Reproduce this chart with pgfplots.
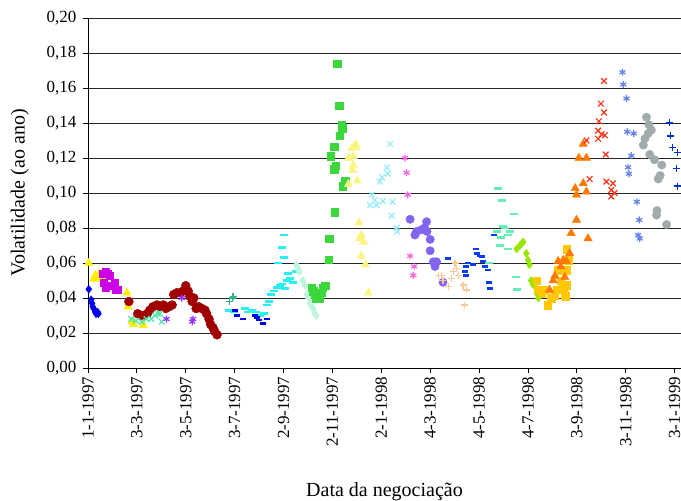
\documentclass[border=0pt]{standalone}
\usepackage{fontspec}
\setmainfont{Liberation Serif}
\usepackage{pgfplots}
\pgfplotsset{compat=1.18}
\definecolor{cA}{RGB}{0,0,240}
\definecolor{cB}{RGB}{255,240,0}
\definecolor{cC}{RGB}{204,0,230}
\definecolor{cD}{RGB}{160,0,0}
\definecolor{cE}{RGB}{80,230,170}
\definecolor{cF}{RGB}{150,50,255}
\definecolor{cG}{RGB}{51,180,130}
\definecolor{cH}{RGB}{40,240,240}
\definecolor{cI}{RGB}{0,0,230}
\definecolor{cJ}{RGB}{190,245,220}
\definecolor{cK}{RGB}{60,215,60}
\definecolor{cL}{RGB}{250,245,130}
\definecolor{cM}{RGB}{150,235,250}
\definecolor{cN}{RGB}{245,100,220}
\definecolor{cO}{RGB}{130,100,240}
\definecolor{cP}{RGB}{250,200,150}
\definecolor{cQ}{RGB}{10,60,240}
\definecolor{cR}{RGB}{100,240,180}
\definecolor{cS}{RGB}{150,230,0}
\definecolor{cT}{RGB}{255,200,0}
\definecolor{cU}{RGB}{255,120,0}
\definecolor{cV}{RGB}{255,50,20}
\definecolor{cW}{RGB}{100,130,235}
\definecolor{cX}{RGB}{160,172,172}
\definecolor{cY}{RGB}{0,50,210}
\begin{document}
\begin{tikzpicture}
\begin{axis}[
  scale only axis, width=593pt, height=350pt,
  xmin=0, xmax=740, ymin=0, ymax=0.2,
  axis lines*=left,
  xtick={0,61,122,183,244,305,366,427,488,549,610,671,732},
  xticklabels={1-1-1997,3-3-1997,3-5-1997,3-7-1997,2-9-1997,2-11-1997,2-1-1998,4-3-1998,4-5-1998,4-7-1998,3-9-1998,3-11-1998,3-1-1999},
  ytick={0,0.02,0.04,0.06,0.08,0.1,0.12,0.14,0.16,0.18,0.2},
  yticklabels={{0,00},{0,02},{0,04},{0,06},{0,08},{0,10},{0,12},{0,14},{0,16},{0,18},{0,20}},
  ymajorgrids, grid style={black!85, line width=0.9pt},
  tick align=outside, major tick length=5pt,
  tick style={black, line width=0.8pt},
  axis line style={black, line width=0.8pt},
  xticklabel style={rotate=90, anchor=east, font=\fontsize{17}{20}\selectfont},
  yticklabel style={xshift=-3pt, font=\fontsize{17}{20}\selectfont},
  xlabel={Data da negociação},
  ylabel={Volatilidade (ao ano)},
  xlabel style={at={(axis description cs:0.5,-0.366)}, anchor=base, font=\fontsize{20}{24}\selectfont},
  ylabel style={at={(axis description cs:-0.115,0.5)}, anchor=center, font=\fontsize{20}{24}\selectfont},
]
% blue diamonds
\addplot[only marks, mark=diamond*, mark size=4pt, color=cA] coordinates {
(1,0.045) (4,0.039) (5,0.037) (6,0.035) (7,0.034) (9,0.032) (10,0.031) (12,0.032) (13,0.031)};
% yellow triangles
\addplot[only marks, mark=triangle*, mark size=4.8pt, color=cB] coordinates {
(1,0.060) (7,0.051) (9,0.053) (11,0.051) (14,0.054) (17.5,0.053) (21,0.052) (24,0.054) (28,0.052) (30,0.048) (32,0.0465) (34,0.046) (48.6,0.043) (50,0.035) (55,0.0265) (57,0.025) (69,0.0246)};
% magenta squares
\addplot[only marks, mark=square*, mark size=3.5pt, color=cC] coordinates {
(18,0.054) (22,0.055) (25,0.054) (27,0.053) (20,0.049) (22,0.046) (27,0.047) (33,0.049) (35,0.045) (37,0.045)};
% dark red circles
\addplot[only marks, mark=*, mark size=4.5pt, color=cD] coordinates {
(51,0.038) (62,0.031) (66,0.030) (70,0.030) (74,0.031) (77,0.033) (81,0.035) (86,0.036) (90,0.035) (94,0.036) (97,0.034) (101,0.035) (105,0.036) (107,0.042) (111,0.043) (115,0.043) (119,0.044) (122,0.047) (125,0.044) (127,0.041) (130,0.038) (132,0.040) (135,0.034) (138,0.035) (142,0.034) (146,0.033) (148,0.031) (151,0.028) (153,0.025) (156,0.023) (158,0.021) (161,0.019)};
% aquamarine x
\addplot[only marks, mark=x, mark size=4pt, line width=1.2pt, color=cE] coordinates {
(54,0.028) (60,0.027) (67,0.0265) (73,0.028) (79,0.028) (84,0.030) (87,0.031) (90,0.031) (92,0.0265)};
% purple stars
\addplot[only marks, mark=asterisk, mark size=3.5pt, line width=1.2pt, color=cF] coordinates {
(98,0.028) (117,0.040) (130,0.0265) (131,0.028)};
% sea green plus
\addplot[only marks, mark=+, mark size=3.5pt, line width=1.3pt, color=cG] coordinates {
(177,0.038) (180,0.040) (181,0.041)};
% cyan dashes
\addplot[only marks, mark=-, mark size=4pt, line width=2.7pt, color=cH] coordinates {
(176,0.033) (182,0.032) (196,0.034) (200,0.032) (205,0.033) (210,0.032) (215,0.030) (220,0.031) (223,0.036) (226,0.038) (228,0.042) (232,0.044) (236,0.046) (240,0.047) (242,0.048) (246,0.0455) (248,0.050) (252,0.051) (256,0.049) (260,0.055) (250,0.054) (237,0.060) (245,0.063) (242,0.069) (245,0.076)};
% blue dashes
\addplot[only marks, mark=-, mark size=3pt, line width=2.7pt, color=cI] coordinates {
(183,0.033) (186,0.030) (194,0.028) (209,0.030) (211,0.029) (213,0.0275) (219,0.0255) (223,0.028)};
% pale mint diamonds
\addplot[only marks, mark=diamond*, mark size=4pt, color=cJ] coordinates {
(260,0.059) (262,0.057) (264,0.055) (268,0.050) (271,0.047) (273,0.042) (275,0.040) (277,0.037) (279,0.035) (281,0.034) (283,0.031) (285,0.030)};
% green squares
\addplot[only marks, mark=square*, mark size=3.7pt, color=cK] coordinates {
(279,0.046) (281,0.044) (283,0.042) (285,0.040) (287,0.041) (289,0.040) (291,0.043) (293,0.046) (296,0.047) (300,0.062) (301,0.074) (303,0.121) (307,0.1265) (307,0.1135) (308,0.089) (309,0.1155) (311,0.174) (313.5,0.150) (314,0.1326) (316.5,0.139) (317,0.137) (318,0.104) (320.6,0.106) (321,0.107)};
% pale yellow triangles
\addplot[only marks, mark=triangle*, mark size=4.8pt, color=cL] coordinates {
(325,0.120) (325,0.105) (329,0.1256) (330,0.113) (331,0.121) (331,0.116) (334,0.128) (335,0.126) (336,0.107) (338,0.083) (339,0.074) (341,0.076) (341,0.064) (344,0.072) (346,0.059) (350,0.043)};
% pale cyan x
\addplot[only marks, mark=x, mark size=4pt, line width=1.2pt, color=cM] coordinates {
(352,0.093) (354,0.099) (358,0.096) (360,0.093) (364,0.1065) (367,0.109) (368,0.0954) (373,0.1145) (374,0.111) (377,0.128) (379,0.087) (380,0.095) (385,0.080) (386,0.078)};
% pink stars
\addplot[only marks, mark=asterisk, mark size=3.5pt, line width=1.2pt, color=cN] coordinates {
(395.5,0.120) (397.6,0.1116) (399,0.099) (402,0.064) (406,0.053) (407,0.058)};
% slate blue circles
\addplot[only marks, mark=*, mark size=4.2pt, color=cO] coordinates {
(402,0.085) (408,0.076) (410,0.078) (416,0.079) (420,0.080) (422.5,0.0836) (423,0.078) (427,0.0735) (427,0.067) (431,0.0607) (433,0.058) (435,0.0607) (443,0.049)};
% peach plus
\addplot[only marks, mark=+, mark size=3.5pt, line width=1.3pt, color=cP] coordinates {
(437,0.0528) (441,0.053) (443,0.050) (449.5,0.0465) (453.7,0.051) (455.7,0.055) (458,0.060) (460,0.057) (462,0.053) (468,0.0474) (472,0.0446) (470,0.036)};
% royal blue dashes
\addplot[only marks, mark=-, mark size=3pt, line width=2.7pt, color=cQ] coordinates {
(449.5,0.0627) (470,0.055) (472,0.058) (474,0.060) (472,0.053) (481,0.059) (484,0.068) (486,0.0655) (489,0.064) (492,0.0636) (493,0.061) (495,0.058) (499,0.056) (501,0.049) (502,0.0455) (507,0.076)};
% aquamarine dashes
\addplot[only marks, mark=-, mark size=4pt, line width=2.7pt, color=cR] coordinates {
(500.6,0.060) (510,0.078) (512,0.1027) (514,0.070) (516,0.0747) (517,0.0956) (518,0.081) (520,0.080) (524,0.076) (524,0.068) (526.5,0.078) (531,0.088) (533.5,0.052) (535,0.045)};
% chartreuse diamonds
\addplot[only marks, mark=diamond*, mark size=4pt, color=cS] coordinates {
(535,0.068) (539,0.070) (541,0.071) (543,0.072) (547,0.0655) (549,0.0617) (551,0.059) (553,0.050) (555,0.048) (558,0.0465) (560,0.0427) (562,0.040)};
% gold squares
\addplot[only marks, mark=square*, mark size=3.7pt, color=cT] coordinates {
(560,0.050) (562,0.0446) (566,0.0427) (570,0.0446) (574,0.036) (578,0.040) (582.6,0.0417) (584.6,0.0446) (586.7,0.056) (590,0.050) (593,0.045) (595,0.0417) (596,0.041) (597,0.0474) (597,0.056) (597.5,0.068) (599,0.0617)};
% orange triangles
\addplot[only marks, mark=triangle*, mark size=4.8pt, color=cU] coordinates {
(576,0.0446) (580.5,0.050) (582.6,0.0526) (586.7,0.061) (590,0.058) (593,0.0617) (597,0.061) (595,0.052) (601,0.0655) (603,0.077) (609.6,0.0846) (624,0.074) (608,0.1027) (609.6,0.099) (618,0.1055) (622,0.1007) (612.5,0.120) (622,0.120) (618,0.128)};
% red x
\addplot[only marks, mark=x, mark size=4pt, line width=1.2pt, color=cV] coordinates {
(644,0.164) (640,0.151) (644,0.146) (637.5,0.141) (636.6,0.1356) (641,0.1335) (645,0.133) (636.6,0.131) (622,0.130) (646,0.122) (626,0.108) (647,0.1065) (655,0.1055) (653,0.1017) (657,0.100) (653,0.098)};
% cornflower stars
\addplot[only marks, mark=asterisk, mark size=3.5pt, line width=1.2pt, color=cW] coordinates {
(667,0.169) (668,0.162) (672,0.154) (673,0.135) (681,0.134) (678,0.1213) (674,0.1147) (675,0.111) (685,0.095) (688,0.0846) (686.5,0.076) (688.6,0.074)};
% gray circles
\addplot[only marks, mark=*, mark size=4.2pt, color=cX] coordinates {
(697,0.1433) (700,0.139) (703,0.136) (699,0.134) (695,0.131) (693,0.1274) (701,0.122) (707,0.119) (716,0.116) (714,0.110) (711.6,0.108) (710,0.090) (709.5,0.0874) (722,0.082)};
% blue plus
\addplot[only marks, mark=+, mark size=3.5pt, line width=1.3pt, color=cY] coordinates {
(726,0.140) (727,0.1326) (729,0.126) (736,0.123) (734,0.114) (736,0.104)};
\end{axis}
\pgfresetboundingbox
\path[use as bounding box] (-88pt,-133pt) rectangle (593pt,368pt);
\end{tikzpicture}
\end{document}
